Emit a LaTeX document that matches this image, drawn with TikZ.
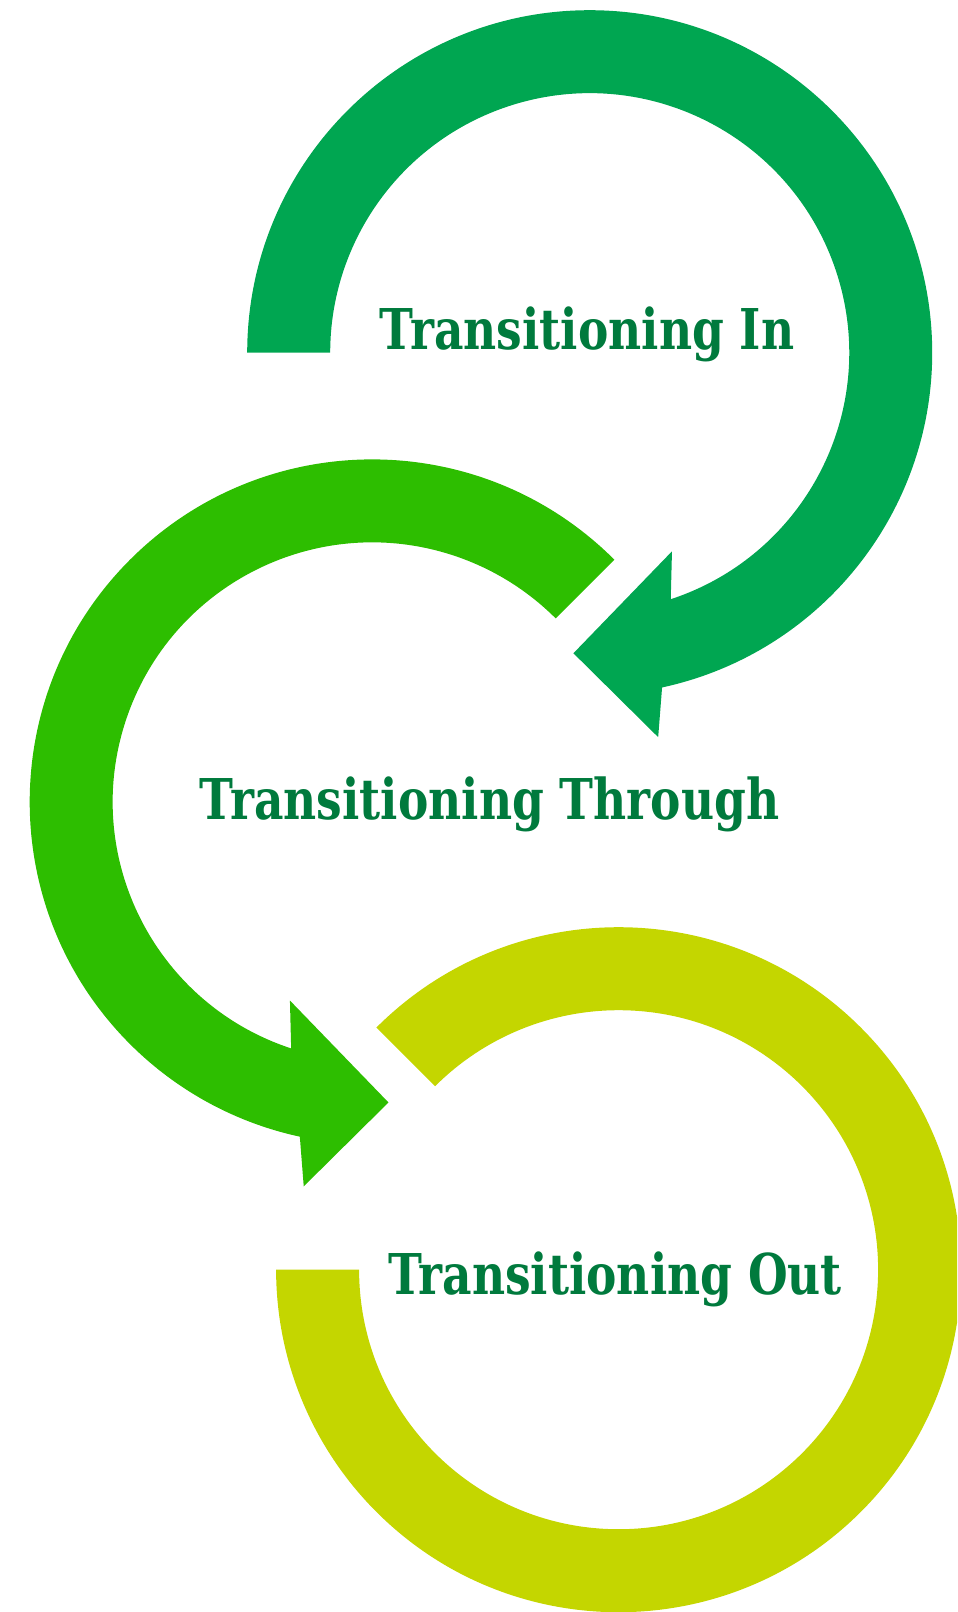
\documentclass[tikz,border=0pt]{standalone}
\usepackage{fontspec}
\usepackage{tikz}
\usetikzlibrary{calc}
\newfontfamily\slabfont[FakeStretch=0.81]{DejaVu Serif}
\definecolor{ringgreen}{RGB}{0,166,81}
\definecolor{ringlime}{RGB}{45,190,0}
\definecolor{ringyellow}{RGB}{196,214,0}
\definecolor{labelgreen}{RGB}{0,122,61}
\tikzset{
  ring 1/.style={fill=ringgreen},
  ring 2/.style={fill=ringlime},
  ring 3/.style={fill=ringyellow},
  stage label/.style={text=labelgreen,inner sep=0,anchor=base,
    font=\slabfont\bfseries\fontsize{32}{38}\selectfont}
}
% ring radii (outer / inner)
\def\Ro{342.5}
\def\Ri{259.5}

\begin{document}
\begin{tikzpicture}[x=0.02cm, y=0.02cm]
  \useasboundingbox (0,0) rectangle (957,-1612);
  \clip (0,0) rectangle (957,-1612);

  \coordinate (c1) at (589.7,-352.7);
  \coordinate (c2) at (372.2,-801.9);
  \coordinate (c3) at (618.6,-1269.7);

  % top ring, clockwise arrow
  \fill[ring 1] ($(c1)+(180:\Ro)$) arc[start angle=180, end angle=-77.8, radius=\Ro]
    -- ($(c1)+(-79.9:390.5)$) -- ($(c1)+(-93.1:301)$) -- ($(c1)+(-67.5:215)$)
    -- ($(c1)+(-71.8:\Ri)$) arc[start angle=-71.8, end angle=180, radius=\Ri] -- cycle;

  % middle ring, counter-clockwise arrow
  \fill[ring 2] ($(c2)+(45:\Ro)$) arc[start angle=45, end angle=257.8, radius=\Ro]
    -- ($(c2)+(259.9:390.5)$) -- ($(c2)+(273.1:301)$) -- ($(c2)+(247.5:215)$)
    -- ($(c2)+(251.8:\Ri)$) arc[start angle=251.8, end angle=45, radius=\Ri] -- cycle;

  % bottom ring
  \fill[ring 3] ($(c3)+(135:\Ro)$) arc[start angle=135, end angle=-180, radius=\Ro]
    -- ($(c3)+(-180:\Ri)$) arc[start angle=-180, end angle=135, radius=\Ri] -- cycle;

  \node[stage label] (lblin) at (587,-349.5) {Transitioning In};
  \node[stage label] (lblthrough) at (489.5,-819) {Transitioning Through};
  \node[stage label] (lblout) at (615,-1294) {Transitioning Out};
\end{tikzpicture}
\end{document}
